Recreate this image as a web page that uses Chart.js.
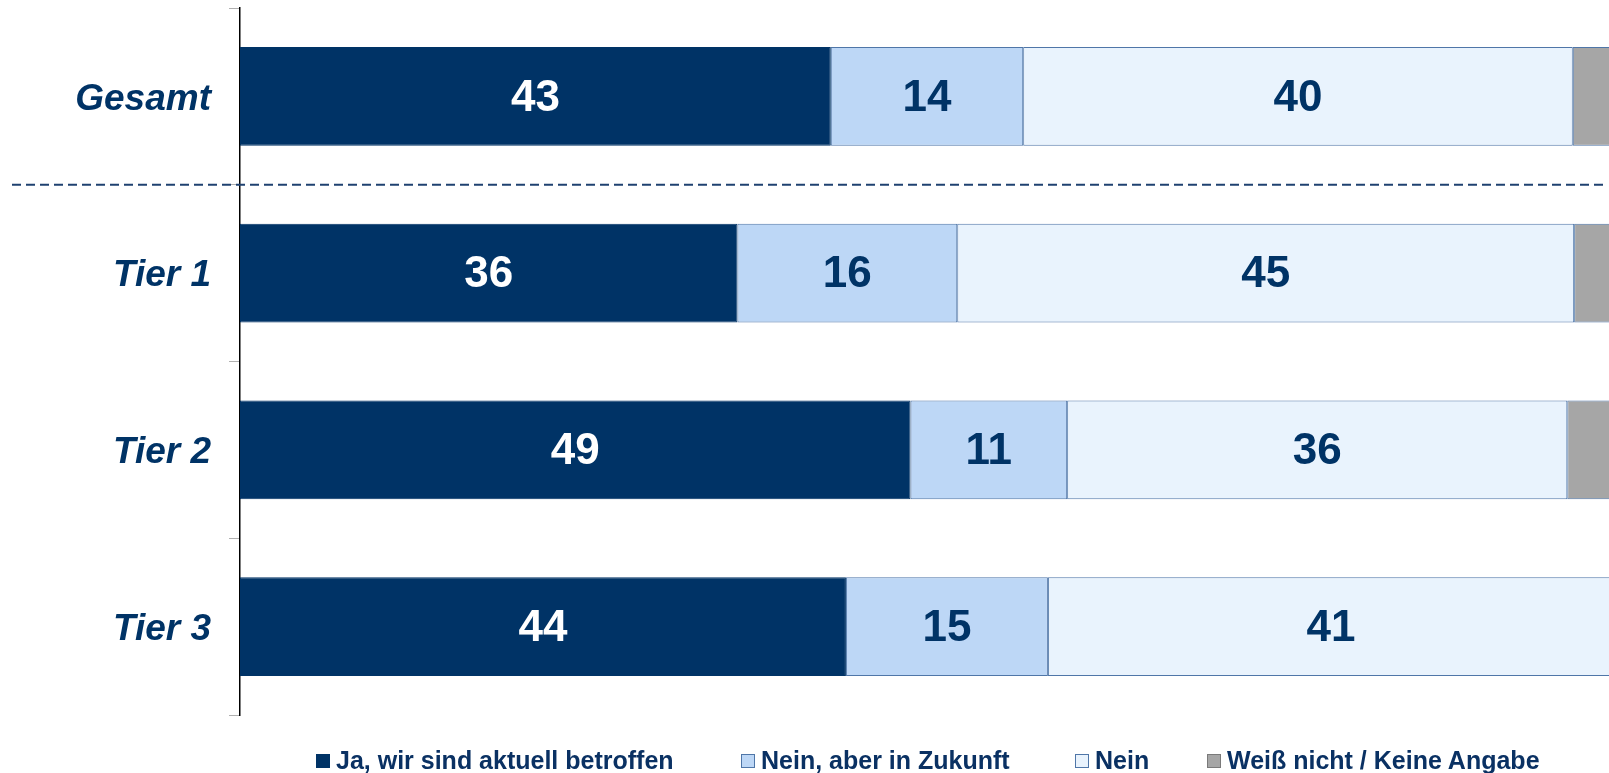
<!DOCTYPE html>
<html>
<head>
<meta charset="utf-8">
<script src="https://cdn.jsdelivr.net/npm/chart.js@4"></script>
<style>
    body { margin: 0; overflow: hidden; background: #ffffff; font-family: "Liberation Sans", Arial, sans-serif; }
    #wrap { position: relative; width: 1620px; height: 773px; }
    #legend { position: absolute; left: 0; top: 748px; width: 1620px; height: 25px; }
    .item { position: absolute; top: 0; display: flex; align-items: center; font-weight: bold; font-size: 25px; color: #0A3163; line-height: 25px; white-space: nowrap; }
    .box { width: 12px; height: 12px; border: 1px solid #4F76A8; margin-right: 6px; }
</style>
</head>
<body>
<div id="wrap">
    <canvas id="myChart"></canvas>
    <div id="legend"></div>
</div>
<script>
// Data
const categories = ['Gesamt', 'Tier 1', 'Tier 2', 'Tier 3'];
const seriesNames = ['Ja, wir sind aktuell betroffen', 'Nein, aber in Zukunft', 'Nein', 'Weiß nicht / Keine Angabe'];
const jaAktuell = [43.0, 36.2, 48.8, 44.1];
const neinZukunft = [14.0, 16.0, 11.4, 14.7];
const nein = [40.0, 44.9, 36.4, 41.2];
const weissNicht = [3.0, 2.9, 3.4, 0];

const colors = ['#003366', '#BDD7F6', '#E9F3FD', '#A6A6A6'];
const labelColors = ['#FFFFFF', '#003366', '#003366', null];
const legendLeft = [316, 741, 1075, 1207];

// Draws the numbers inside the segments
const valueLabels = {
    id: 'valueLabels',
    afterDatasetsDraw(chart) {
        const ctx = chart.ctx;
        ctx.save();
        ctx.font = 'bold 44px "Liberation Sans", Arial, sans-serif';
        ctx.textAlign = 'center';
        ctx.textBaseline = 'middle';
        chart.data.datasets.forEach((ds, i) => {
            if (!labelColors[i]) return;
            chart.getDatasetMeta(i).data.forEach((bar, j) => {
                const v = ds.data[j];
                if (!v) return;
                ctx.fillStyle = labelColors[i];
                ctx.fillText(Math.round(v), (bar.x + bar.base) / 2, bar.y + 2);
            });
        });
        ctx.restore();
    }
};

// Dashed separator below "Gesamt"
const separator = {
    id: 'separator',
    afterDraw(chart) {
        const y = chart.scales.y;
        const yPos = (y.getPixelForValue(0) + y.getPixelForValue(1)) / 2;
        const ctx = chart.ctx;
        ctx.save();
        ctx.strokeStyle = '#1F4170';
        ctx.lineWidth = 2;
        ctx.setLineDash([9, 5]);
        ctx.beginPath();
        ctx.moveTo(12, yPos);
        ctx.lineTo(1604, yPos);
        ctx.stroke();
        ctx.restore();
    }
};

const seriesData = [jaAktuell, neinZukunft, nein, weissNicht];

const ctx = document.getElementById('myChart').getContext('2d');
new Chart(ctx, {
    type: 'bar',
    data: {
        labels: categories,
        datasets: seriesNames.map((name, i) => ({
            label: name,
            data: seriesData[i],
            backgroundColor: colors[i],
            borderColor: i === 0 ? '#003366' : '#4F76A8',
            borderWidth: 1,
            borderSkipped: false,
            barPercentage: 0.56,
            categoryPercentage: 1
        }))
    },
    options: {
        indexAxis: 'y',
        responsive: true,
        maintainAspectRatio: false,
        animation: false,
        layout: {
            padding: { top: 8, right: 6, bottom: 58, left: 0 }
        },
        scales: {
            x: {
                display: false,
                stacked: true,
                min: 0,
                max: 100
            },
            y: {
                stacked: true,
                afterFit(scale) {
                    scale.width = 240;
                    scale.paddingTop = 0;
                    scale.paddingBottom = 0;
                },
                ticks: {
                    color: '#003366',
                    padding: 18,
                    labelOffset: 3,
                    font: { family: '"Liberation Sans", Arial, sans-serif', size: 37, weight: 'bold', style: 'italic' }
                },
                grid: {
                    drawOnChartArea: false,
                    drawTicks: true,
                    tickLength: 11,
                    color: '#B0B0B0'
                },
                border: {
                    color: '#000000',
                    width: 1.5
                }
            }
        },
        plugins: {
            legend: { display: false },
            tooltip: { enabled: false }
        }
    },
    plugins: [valueLabels, separator]
});

// Legend
const legendEl = document.getElementById('legend');
seriesNames.forEach((name, i) => {
    const item = document.createElement('div');
    item.className = 'item';
    item.style.left = legendLeft[i] + 'px';
    const box = document.createElement('span');
    box.className = 'box';
    box.style.background = colors[i];
    if (i === 0) box.style.borderColor = colors[0];
    if (i === 3) box.style.borderColor = '#7A7A7A';
    item.appendChild(box);
    item.appendChild(document.createTextNode(name));
    legendEl.appendChild(item);
});
</script>
</body>
</html>
